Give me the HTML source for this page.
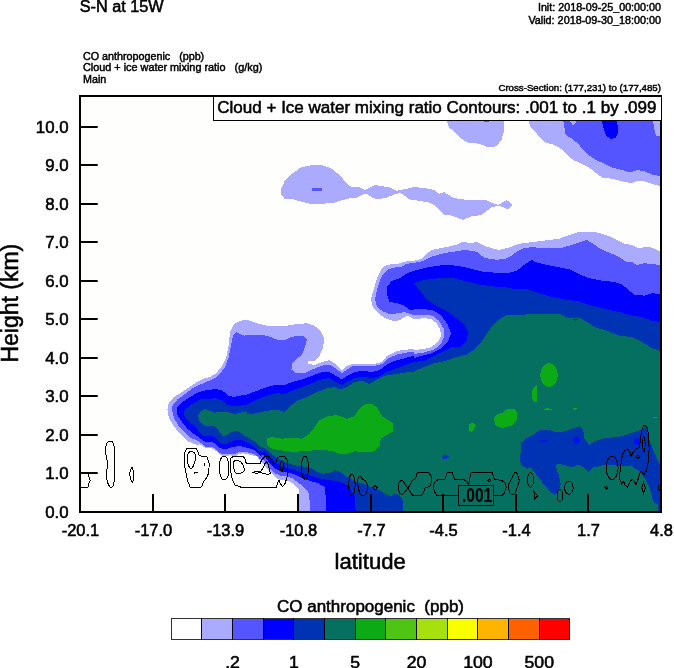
<!DOCTYPE html>
<html><head><meta charset="utf-8"><title>S-N at 15W</title>
<style>
html,body{margin:0;padding:0;background:#fff;}
body{width:674px;height:668px;overflow:hidden;position:relative;}
svg{position:absolute;left:0;top:0;display:block;}
text{font-family:"Liberation Sans",sans-serif;fill:#000;}
.tk{font-size:16px;stroke:#000;stroke-width:0.55px;}
.sm{font-size:10.4px;stroke:#000;stroke-width:0.45px;}
.bd{stroke:#000;stroke-width:0.55px;}
</style></head><body>
<svg width="674" height="668" viewBox="0 0 674 668">
<rect width="674" height="668" fill="#ffffff"/>
<clipPath id="pc"><rect x="80" y="96" width="581" height="416"/></clipPath>
<g clip-path="url(#pc)" shape-rendering="crispEdges">
<rect x="80" y="96" width="581" height="416" fill="#fefefc"/>
<path d="M167.5 409.5 L168.75 403.25 L173.75 397 L180 393.25 L187.5 388.25 L195 383.25 L202.5 379 L210 377 L216.25 373.25 L221.25 367 L226.25 357 L228.75 344.5 L230 332 L233.75 324.5 L240 320.75 L247 320 L257 323.25 L267 325.75 L277 326.5 L287 325.75 L297 324 L307 323.25 L314.5 325.75 L320.75 330.75 L324 338.25 L323.25 347 L319.5 355.75 L314.5 360.75 L308.25 361.5 L307 363.25 L314.5 365 L322 362 L329.5 360 L334.5 363.25 L342 370.75 L347 365.75 L352 364 L362 364 L372 364.5 L382 362 L387 355.75 L394.5 352 L402 350 L414 349 L414 350 L424 349 L431.5 347 L437.75 342 L441 335.75 L440.25 329.5 L436.5 323.25 L431.5 319 L424 318.25 L414 319 L407 315.75 L400.75 319.5 L394.5 321.5 L387 319 L379.5 314.5 L373.25 308.25 L370.75 299.5 L373.5 290 L377 278.25 L380.75 270.25 L385 265.75 L391.5 264 L398.5 263.5 L405.5 261.5 L414.5 260.5 L421.5 258.75 L427 253.5 L432.25 249.75 L441.25 248 L450 246.25 L457.25 244.5 L462.5 241.5 L469.75 243.25 L476.75 242 L484 245.75 L491.5 248 L499 250 L509 247.5 L519 243.75 L529 242.5 L539 241.25 L549 240 L559 238.75 L569 235 L576.5 232.5 L581 232 L589.5 231.5 L594.5 232 L602 233.75 L609.5 236.25 L617 240 L624.5 243.75 L632 245 L637 247.5 L643.25 247.5 L649.5 247 L654.5 248.75 L660 251.25 L661 512 L299.08 512.99 L298.54 488.96 L294.98 485.4 L290.53 481.84 L285.19 479.52 L278.96 479.52 L274.51 476.5 L270.06 472.05 L265.61 466.7 L261.16 461.36 L260 460.61 L258.76 458.83 L256.97 456.6 L253.41 455.71 L249.85 454.82 L246.29 453.93 L242.73 453.31 L239.17 453.93 L236.5 455.71 L233.83 456.16 L230.27 455.27 L226.71 455.98 L222.26 455.71 L219.59 454.2 L216.91 451.71 L214.24 449.48 L211.57 448.32 L206.23 448.32 L202.67 446.37 L200 444.14 L197.5 445 L187.5 441.25 L180 433.75 L173.75 426.25 L168.75 417.5 L167.5 410Z" fill="#aaaaff" />
<path d="M446.5 120 L449 127.5 L455.25 132.5 L461.5 138.75 L467.75 142.5 L479 143.75 L489 147.5 L496.5 146.25 L501.5 140 L503.5 132.5 L503.5 120Z" fill="#aaaaff" />
<path d="M528.25 120 L530.75 127.5 L535.75 132.5 L540.75 138.75 L545.75 142.5 L554.5 145 L560.75 148.75 L567 155 L573.25 160 L582 163.75 L590.75 168.75 L597 173.75 L602 177.5 L612 178.75 L622 181.25 L630.75 183 L637 181.25 L644.5 181.25 L652 183.75 L660 186.25 L660 120Z" fill="#aaaaff" />
<path d="M280.75 190 L284.5 181.25 L292 173.75 L300.75 167.5 L312 165 L322 165 L332 168.75 L340.75 176.25 L345.75 182.5 L349.5 186.25 L354.5 187.5 L359.5 187 L364.5 190 L368.25 188.5 L374.5 185 L382 186.25 L389.5 187.5 L397 190.75 L407 188.75 L414 187 L424 188 L434 190 L439 193.75 L444 192 L449 195 L454 198 L464 199.5 L476.5 200 L485.25 199.5 L491.5 202.5 L497.75 205 L501.5 203 L506.5 200 L510.25 202.5 L512.75 205 L507.75 209.5 L502.75 207 L497.75 205.75 L491.5 207.5 L486.5 211.25 L481.5 215 L471.5 216.25 L462.75 220 L456.5 217.5 L449 215 L444 214.5 L439 210 L434 205 L429 202.5 L421.5 201.25 L414 200 L409.5 199.5 L404.5 195.5 L400 193 L394.5 194.25 L387 197.5 L377 199.5 L372 197.5 L367.5 194 L363.25 194.5 L357 197.5 L347 198.75 L334.5 202.5 L322 203.75 L309.5 203.75 L299.5 201.25 L292 198.75 L284.5 198.75 L280.75 193.75Z" fill="#aaaaff" />
<rect x="484.3" y="121" width="4.5" height="1" fill="#5555ff"/>
<path d="M311.5 188.25 L321.5 188 L322 190.75 L311.5 191Z" fill="#5555ff" />
<path d="M171.25 412 L172.5 405.75 L177.5 399.5 L185 394 L192.5 388.25 L200 384.5 L207.5 381.5 L215 378.25 L220 374 L225 367 L228.75 357 L231.25 344.5 L233 335.75 L236.25 332 L241.25 334.5 L245 335.75 L247 334.5 L257 334.5 L267 335.75 L277 339.5 L284.5 340 L290.75 337 L298.25 335.75 L304.5 336.5 L307 339.5 L305 347 L302 354.5 L295.75 359.5 L292 363.25 L291.5 369.5 L295.75 373.25 L304.5 373.25 L312 369.5 L319.5 366.5 L327 364.5 L332 365.75 L337 369.5 L342 373.25 L347 369.5 L352 366.5 L362 365.75 L372 366.5 L382 364 L388.25 358.25 L397 354.5 L407 352.5 L414 351.5 L414 354 L424 352.5 L434 349.5 L441 344 L444.5 335.75 L443.5 328.25 L439 320.75 L432.75 315.75 L424 314.5 L414 315 L404.5 312 L397 313.25 L390.75 314.5 L383.25 311.5 L377 307 L375 299.5 L377 290 L379.75 281 L382.5 274.75 L387.75 269.5 L395 267.5 L402 266.75 L405.5 264 L414.5 262.75 L423.5 261 L430.5 257 L441.25 254 L450 252 L459 251 L464.5 249.75 L471.5 251 L477 251.75 L484.25 258 L496.75 259.75 L505.5 258.75 L511 256.25 L518 250.75 L523.5 248 L532.25 247.25 L544.75 248 L559 248.5 L569.75 245.5 L580.5 242 L587 240 L593.25 243.75 L598.25 247.5 L605.75 251.25 L612 253.75 L619.5 257.5 L627 262 L632 262 L637 265 L644.5 263.25 L652 264 L660 265 L661 512 L310.11 512.99 L309.22 493.41 L304.77 488.07 L298.54 482.73 L292.31 478.28 L286.97 476.5 L280.74 475.61 L275.4 473.47 L270.95 469.38 L266.5 464.03 L262.05 457.8 L260 459.27 L258.76 457.49 L256.08 455.27 L253.41 453.93 L249.85 453.04 L246.29 452.15 L241.84 451.71 L238.28 452.15 L235.61 453.93 L230.27 453.93 L226.71 454.38 L223.15 454.38 L219.59 453.04 L216.91 450.37 L214.24 447.97 L211.57 446.81 L206.23 447.08 L203.56 445.03 L200 442.36 L198.75 441.25 L190 437.5 L183.75 431.25 L178 425 L173.75 417.5 L172 410Z" fill="#5555ff" />
<path d="M563.25 120 L564.5 127.5 L565.75 135 L572 138.75 L578.25 143.75 L582 148.75 L588.25 155 L595.75 160 L604.5 163.75 L612 167.5 L622 170 L630.75 172.5 L637 170 L644.5 171.25 L652 174.5 L660 176.25 L660 136.25 L656.25 136.25 L654.5 130 L652.75 120 L577.5 120 L573.25 125.5 L569 120Z" fill="#5555ff" />
<path d="M601.5 120 L603.25 127.5 L605.75 135 L610.75 139.5 L615.75 137.5 L618.25 132.5 L617 120Z" fill="#0000ff" />
<path d="M176.25 412 L177.5 407 L182.5 402 L190 397 L198.75 392 L207.5 390 L216.25 389 L222.5 390.75 L228.75 395.75 L233.75 397 L240 395.75 L247 394.5 L257 390.75 L267 387 L277 384.5 L284.5 385 L292 382 L302 379.5 L312 375.75 L322 372 L329.5 372 L335.75 375.75 L342 379.5 L347 375.75 L354.5 372 L362 370.75 L372 372 L379.5 370 L387 364.5 L394.5 360.75 L404.5 358.25 L414 355.75 L414 358.25 L421.5 355.75 L431.5 353.25 L441.5 348.25 L447.75 342 L451 333.25 L447.75 324.5 L441.5 315.75 L434 310.75 L424 309 L414 309.5 L409.5 309.5 L404.5 305.75 L397 303.25 L389.5 302 L387 294.5 L387.5 285.75 L392 280.75 L399.5 278.25 L407 273.25 L414 270.75 L429 267 L446.5 264.5 L464 267 L484 272 L507 273.25 L517 270.75 L524.5 264.5 L528.25 262 L532 260 L534.5 262 L544.5 264.5 L557 267 L569.5 269.5 L579.5 274.5 L589.5 278.25 L602 280.75 L614.5 282 L622 284.5 L629.5 290.75 L634.5 294.5 L644.5 295.75 L652 293.25 L660 294 L661 512 L326.14 512.99 L325.25 487.18 L317.24 482.73 L310.11 480.95 L302.99 478.28 L295.87 474.72 L290.53 472.94 L283.41 472.05 L278.07 470.27 L272.73 466.7 L268.28 461.36 L263.83 455.13 L260 455.71 L257.87 453.49 L255.19 450.82 L252.52 449.48 L248.96 448.32 L245.4 447.26 L241.84 446.37 L238.28 445.92 L234.72 446.81 L230.27 447.7 L226.71 448.86 L223.15 449.04 L219.59 447.7 L216.91 445.03 L214.24 442.8 L211.57 441.91 L207.12 442.36 L203.56 441.02 L200 438.18 L193.75 433.75 L187.5 428.75 L182.5 422.5 L178 416.25 L176.25 410Z" fill="#0000ff" />
<path d="M183 414.5 L185 409.5 L191.25 404.5 L200 399.5 L207.5 399 L215 398.25 L222.5 400.75 L227.5 404.5 L232.5 406.5 L240 405.75 L247 404.5 L257 399.5 L267 395.75 L277 393.25 L284.5 394 L292 390.75 L302 387 L312 383.25 L322 379 L329.5 378.25 L335.75 382 L342 385 L347 382 L354.5 378.25 L362 376.5 L372 378.25 L379.5 376.5 L387 372 L397 368.25 L407 364.5 L414 362 L424 360.75 L434 355.75 L444 350.75 L451.5 347 L461.5 346.5 L466.5 340.75 L468.5 332 L464 324.5 L456.5 318.25 L446.5 310.75 L436.5 305.75 L426.5 299.5 L419 289.5 L414 283.25 L424 280 L439 278.25 L451.5 277.5 L464 280.75 L479 284.5 L494 286.5 L507 287.5 L517 289.5 L527 289 L539.5 293.25 L552 297 L564.5 299.5 L579.5 301.5 L592 305.75 L607 309.5 L619.5 312 L632 315.75 L642 317 L652 320.75 L660 322 L661 512 L355.75 512.5 L354.5 495 L350 489.5 L349.99 486.64 L343.94 483.62 L336.82 481.3 L329.7 480.06 L319.02 478.28 L310.11 475.61 L302.99 472.94 L295.87 470.27 L288.75 468.48 L281.63 466.7 L275.4 462.25 L270.06 456.91 L264.72 450.68 L260 452.6 L257.87 449.93 L255.19 447.26 L251.63 445.03 L248.07 443.25 L244.51 441.47 L241.84 440.13 L238.28 439.69 L233.83 440.58 L229.38 442.36 L225.82 443.87 L222.26 443.69 L219.59 441.91 L216.91 439.24 L214.24 437.02 L211.57 436.13 L207.12 436.39 L203.56 435.68 L200 432.57 L196.25 427.5 L190 422.5 L185 417.5 L183 411.25Z" fill="#0033b3" />
<path d="M197.5 417 L200 412 L205 409 L210 410.75 L215 412.75 L220 411.5 L227.5 412 L235 414 L242.5 412 L247 411.5 L247 414.5 L257 413.25 L267 410.75 L277 409.5 L284.5 412 L289.5 407 L297 400.75 L307 397 L317 392 L327 388.25 L334.5 387 L340.75 389.5 L347 387 L354.5 382 L362 380.75 L369.5 384 L377 379.5 L384.5 375.75 L397 374 L407 372 L414 371.5 L424 367 L434 363.25 L446.5 360.75 L456.5 357 L466.5 354.5 L474 349.5 L481.5 342 L486.5 334.5 L491.5 327 L499 319.5 L506.5 315 L519 315 L531.5 314 L544 314.5 L559 315.75 L574 319.5 L581 318.25 L522 315 L532 314 L544.5 314 L559.5 314 L569.5 318.25 L575.75 320.75 L580.75 318.25 L587 322 L594.5 327 L607 330.75 L619.5 335.75 L632 337 L642 342 L652 348.25 L660 350.75 L661 512 L403.25 512.5 L402.5 500 L399.5 495 L394.5 493.75 L390.75 496.25 L387 495 L379.5 490 L372 487.5 L364.5 483.75 L354.5 481.25 L349.99 478.28 L343.94 474.72 L338.6 471.16 L335.04 470.27 L329.7 472.94 L322.58 473.83 L317.24 472.05 L311.89 468.48 L304.77 466.7 L297.65 465.81 L290.53 464.03 L283.41 461.36 L276.29 457.8 L270.95 453.35 L265.61 448.9 L260 446.37 L257.87 444.14 L255.19 441.91 L251.63 439.69 L248.07 437.46 L244.51 435.5 L240.95 433.01 L238.28 431.05 L233.83 431.23 L229.38 433.46 L225.82 435.68 L222.26 435.5 L220.48 433.01 L217.8 429.45 L215.13 426.78 L211.57 425.89 L207.12 426.34 L203.56 425 L203.75 425 L199.5 421.25 L197.5 415Z" fill="#067060" />
<path d="M521.5 442.5 L525.75 438.75 L533.25 435 L539.5 430 L548.25 429.5 L557 432.5 L564.5 431.25 L572 428.75 L579.5 426.25 L583.25 430 L584.5 438.75 L589.5 445 L594.5 441.25 L602 438.75 L612 437.5 L622 436.25 L629.5 433.75 L637 431.25 L642 428.75 L645.75 426.25 L649.5 440 L653.25 450 L657 458.75 L660 465 L660 512 L658 512 L658 503 L656.5 504 L654.5 502.75 L652.5 498.5 L650 489.5 L647 482.5 L643.25 476.25 L639.5 471.25 L632 466.25 L622 466.25 L612 465 L602 465.5 L593.25 467.5 L588.25 472 L584.5 467.5 L578.25 464.5 L572 467.5 L564.5 465 L557 463.75 L555.75 467.5 L559 475 L560.75 483.75 L558.25 491.25 L554.5 495 L550.75 492 L543.25 483.75 L535.75 473.75 L530.75 467.5 L527 468.75 L522 466.25 L520 460Z" fill="#0033b3" />
<path d="M540 440 L547.5 439.5 L548 441.5 L540.5 442Z" fill="#0011ee" />
<ellipse cx="576.5" cy="440.5" rx="3.2" ry="3.2" fill="#0011ee"/>
<ellipse cx="637.0" cy="441.25" rx="3.5" ry="3.5" fill="#0011ee"/>
<ellipse cx="445.25" cy="457.0" rx="3.5" ry="1.8" fill="#0033cc"/>
<path d="M266.5 438.75 L272 437 L282 438.75 L292 437.5 L302 438.75 L309.5 433.75 L314.5 427.5 L319.5 420 L327 416.25 L337 415 L347 418.75 L354.5 416.25 L359.5 408.75 L364.5 404.5 L372 403.75 L377 407.5 L382 416.25 L388.25 420 L393.25 423.75 L393.25 431.25 L387 435 L380.75 438.75 L379.5 446.25 L374.5 451.25 L364.5 452.5 L354.5 451.25 L347 453.75 L339.5 453.75 L332 451.25 L322 449.5 L312 450.5 L302 451.25 L292 452 L282 450.5 L272 448.75 L267.5 445Z" fill="#0caa14" />
<ellipse cx="549" cy="375" rx="8.8" ry="11.8" fill="#0caa14"/>
<path d="M537.25 384 L534 387 L531.5 392 L531.5 397 L534 401.5 L537.25 402Z" fill="#0caa14" />
<path d="M542.75 409 L547.75 408.25 L552.75 409.25 L547.75 410.5Z" fill="#0caa14" />
<path d="M571.5 408.75 L575.25 408 L578.5 409 L575.25 409.75Z" fill="#0caa14" />
<path d="M494 417.5 L496.5 414.5 L502.75 412.5 L507.75 408.75 L514 408.75 L517.75 413 L516.5 420.5 L511.5 425.5 L501.5 428 L495.25 425Z" fill="#0caa14" />
<path d="M468.5 430 L469 424.5 L472.75 422.5 L475.75 425 L474 429.5 L471.5 432Z" fill="#0caa14" />
<path d="M651.5 417 L654.5 416.5 L656.5 417.5 L654 418.25Z" fill="#0caa14" />
</g>
<g id="contours" clip-path="url(#pc)" fill="none" stroke="#000" stroke-width="1" shape-rendering="crispEdges">
<path d="M80 473.26 L88.01 473.62 L88.9 476.64 L90.33 480.74 L88.55 483.41 L88.01 487.33 L80 487.33"/>
<path d="M106.7 443.35 C107.35 441.66 108.49 441.52 109.38 441.22 C110.27 440.92 111.31 440.92 112.05 441.57 C112.79 442.22 113.44 443.20 113.83 445.13 C114.22 447.06 114.27 448.24 114.36 453.14 C114.45 458.04 114.45 469.46 114.36 474.51 C114.27 479.56 114.28 481.27 113.83 483.41 C113.38 485.55 112.43 486.88 111.69 487.33 C110.95 487.77 110.15 487.18 109.38 486.08 C108.61 484.98 107.56 482.97 107.06 480.74 C106.56 478.51 106.26 475.25 106.35 472.73 C106.44 470.21 107.53 467.99 107.59 465.61 C107.65 463.24 107.06 460.86 106.7 458.48 C106.34 456.11 105.46 453.88 105.46 451.36 C105.46 448.84 106.05 445.04 106.7 443.35Z"/>
<path d="M131.99 467.39 C131.40 467.54 130.06 470.80 129.85 472.73 C129.64 474.66 130.30 477.39 130.74 478.96 C131.19 480.53 132.08 482.31 132.52 482.16 C132.97 482.01 133.26 479.79 133.41 478.07 C133.56 476.35 133.65 473.62 133.41 471.84 C133.17 470.06 132.58 467.24 131.99 467.39Z"/>
<path d="M184.79 452.8 L186.57 448.89 L196.36 448.35 L198.14 451.91 L199.03 455.47 L203.48 456.72 L207.05 456.72 L209.18 463.48 L208.83 472.39 L206.69 477.73 L203.48 481.64 L201.7 486.99 L190.13 487.16 L187.82 481.29 L186.04 473.28 L184.26 463.48Z"/>
<path d="M187.46 456.36 C187.70 454.97 188.15 453.28 188.89 452.45 C189.63 451.62 190.90 451.17 191.91 451.38 C192.92 451.59 194.35 452.42 194.94 453.69 C195.53 454.96 195.68 457.10 195.47 459.03 C195.26 460.96 194.43 463.64 193.69 465.27 C192.95 466.90 191.91 468.83 191.02 468.83 C190.13 468.83 188.94 466.61 188.35 465.27 C187.76 463.93 187.61 462.30 187.46 460.81 C187.31 459.32 187.22 457.75 187.46 456.36Z"/>
<path d="M204.38 463.48 L204.02 465.98" stroke-width="1"/>
<path d="M194.05 473.1 L197.61 472.39" stroke-width="1"/>
<path d="M221.64 457.25 C222.59 455.76 223.87 456.06 224.85 456.36 C225.83 456.66 226.84 457.40 227.52 459.03 C228.20 460.66 228.79 463.64 228.94 466.16 C229.09 468.68 228.79 472.09 228.41 474.17 C228.03 476.25 227.67 477.82 226.63 478.62 C225.59 479.42 223.31 479.86 222.18 478.97 C221.05 478.08 220.37 475.56 219.86 473.28 C219.36 471.00 218.85 467.94 219.15 465.27 C219.45 462.60 220.69 458.74 221.64 457.25Z"/>
<path d="M230.55 458.14 L232.86 456.72 L242.65 456.36 L244.79 458.14 L246.21 463.13 L253.33 463.84 L260.1 463.48 L262.24 459.03 L264.91 456.72 L268.47 456.36 L271.14 459.92 L273.27 463.48 L275.59 463.13 L277.37 458.14 L280.04 456.36 L284.49 456.36 L287.16 459.92 L288.05 467.05 L287.16 475.95 L285.38 483.07 L282.71 486.63 L280.04 483.07 L279.15 480.4 L277.37 483.07 L276.48 487.16 L240.87 487.16 L234.64 484.85 L232.33 479.51 L230.55 470.61 L230.19 463.48Z"/>
<path d="M233.75 461.7 C234.25 460.90 235.38 460.52 236.42 460.46 C237.46 460.40 238.94 460.70 239.98 461.35 C241.02 462.00 241.91 462.84 242.65 464.38 C243.39 465.92 244.58 469.22 244.43 470.61 C244.28 472.00 243.09 472.30 241.76 472.74 C240.42 473.19 237.69 473.78 236.42 473.28 C235.14 472.78 234.62 471.06 234.11 469.72 C233.61 468.39 233.45 466.61 233.39 465.27 C233.33 463.93 233.25 462.50 233.75 461.7Z"/>
<path d="M253.33 472.39 L256 471.5 L260.45 471.5 L263.13 467.94 L264.91 463.48 L266.69 461.7 L268.47 464.38 L269.36 469.72 L270.25 473.28 L267.58 474.52 L264.02 473.28 L260.45 472.74 L256 473.28Z"/>
<path d="M281.82 461.35 C282.41 461.35 283.42 463.13 283.6 464.38 C283.78 465.63 283.25 467.64 282.89 468.83 C282.53 470.02 281.88 471.56 281.46 471.5 C281.04 471.44 280.63 469.66 280.39 468.47 C280.15 467.28 279.80 465.57 280.04 464.38 C280.28 463.19 281.23 461.35 281.82 461.35Z"/>
<ellipse cx="304.95" cy="467.58" rx="3.56" ry="11.57"/>
<ellipse cx="351.95" cy="484.85" rx="3.20" ry="10.68"/>
<path d="M358.54 477.73 C358.99 476.75 359.73 476.15 360.32 476.3 C360.91 476.45 361.21 477.79 362.1 478.62 C362.99 479.45 364.71 479.96 365.66 481.29 C366.61 482.62 367.65 484.70 367.8 486.63 C367.95 488.56 367.20 491.38 366.55 492.86 C365.90 494.34 364.92 495.23 363.88 495.53 C362.84 495.83 361.21 495.83 360.32 494.64 C359.43 493.45 358.99 490.49 358.54 488.41 C358.10 486.33 357.65 483.96 357.65 482.18 C357.65 480.40 358.10 478.71 358.54 477.73Z"/>
<path d="M375.1 485.56 L377.24 487.7 L375.1 489.83 L372.96 487.7Z"/>
<path d="M398.56 483.96 L400.7 480.4 L403.01 480.93 L405.33 484.49 L407.82 488.05 L404.79 491.97 L402.12 495.17 L399.45 492.86 L398.2 488.41Z"/>
<path d="M407.82 488.05 L410.13 484.85 L411.91 480.93 L415.47 478.62 L417.25 472.74 L428.83 472.39 L431.5 476.84 L431.5 481.29 L429.72 486.63 L425.27 487.52 L423.48 491.97 L421.7 495.53 L412.8 495.53 L410.13 491.61Z"/>
<path d="M459.09 495.53 L436.84 495.53 L434.17 491.08 L433.28 485.74 L435.06 481.64 L437.73 479.86 L444.85 479.51 L446.99 472.74 L451.97 472.39 L454.64 479.15 L464.43 479.86 L467.1 481.64 L468.7 485.2"/>
<path d="M468.7 485.2 L470.66 473.28 L472.44 472.39 L492.03 472.39 L494.34 479.51 L501.82 480.4 L505.38 483.07 L506.27 487.52 L504.49 492.86 L501.82 495.53 L493.81 495.53"/>
<path d="M489.36 478.97 L490.78 480.4 L489.36 481.82 L487.93 480.4Z"/>
<path d="M514.92 472.39 L516.7 472.74 L518.48 476.84 L519.38 481.29 L517.59 486.63 L515.81 491.61 L513.14 495.17 L510.47 493.75 L508.69 489.3 L508.34 484.85 L510.47 480.93 L512.79 475.95Z"/>
<ellipse cx="530.59" cy="480.04" rx="3.03" ry="7.12"/>
<path d="M533.97 491.61 L537.71 495.89 L534.15 499.45Z"/>
<ellipse cx="559.97" cy="495.53" rx="2.67" ry="5.88"/>
<ellipse cx="568.87" cy="487.70" rx="4.27" ry="6.59"/>
<path d="M606.61 486.63 L607.86 487.88 L606.61 489.12 L605.36 487.88Z"/>
<ellipse cx="612.14" cy="467.87" rx="5.99" ry="11.68"/>
<path d="M641.65 431.47 L643.14 426.23 L645.39 425.18 L647.64 428.48 L648.69 437.47 L649.14 449.45 L648.39 461.43 L646.59 470.41 L644.19 474.91 L642.4 472.66 L640.9 471.16 L639.4 474.91 L637.6 480.9 L636.11 484.64 L634.16 480.9 L631.91 479.4 L629.67 482.4 L627.42 486.89 L625.17 485.39 L623.67 481.65 L621.73 483.89 L619.93 480.15 L619.63 474.91 L620.68 467.42 L621.43 459.93 L622.63 453.94 L625.17 450.2 L628.17 449.75 L630.41 453.19 L631.16 456.19 L633.41 451.69 L636.4 448.7 L639.1 447.2 L640.15 441.96 L640.9 435.97Z"/>
<ellipse cx="643.89" cy="444.20" rx="1.20" ry="7.49"/>
<path d="M637.9 454.84 L639.7 456.64 L637.9 458.43 L636.11 456.64Z"/>
<path d="M643.59 482.7 L645.39 487.94 L643.59 493.18 L641.8 487.94Z"/>
<path d="M606.15 486.44 L607.65 487.94 L606.15 489.43 L604.65 487.94Z"/>
<path d="M660.67 483.89 L658.87 486.14 L658.57 489.14 L660.67 491.68"/>
<rect x="458.5" y="485.5" width="35" height="19.8" fill="#067060" stroke="#000" stroke-width="0.9"/>
</g>
<text x="462" y="501.8" font-size="20px" font-weight="bold" textLength="30.2" lengthAdjust="spacingAndGlyphs">.001</text>
<!-- frame -->
<rect x="80" y="96" width="581" height="416" fill="none" stroke="#000" stroke-width="2"/>
<!-- info label -->
<rect x="213.5" y="96" width="447.5" height="24.5" fill="#fff" stroke="#000" stroke-width="1" shape-rendering="crispEdges"/>
<text x="217.3" y="112.6" font-size="17px" class="bd" textLength="439.2" lengthAdjust="spacingAndGlyphs">Cloud + Ice water mixing ratio Contours: .001 to .1 by .099</text>
<!-- y ticks -->
<g stroke="#000" stroke-width="2">
<line x1="80" x2="97.7" y1="473" y2="473"/><line x1="80" x2="97.7" y1="435" y2="435"/><line x1="80" x2="97.7" y1="396" y2="396"/><line x1="80" x2="97.7" y1="358" y2="358"/><line x1="80" x2="97.7" y1="319" y2="319"/><line x1="80" x2="97.7" y1="281" y2="281"/><line x1="80" x2="97.7" y1="242" y2="242"/><line x1="80" x2="97.7" y1="204" y2="204"/><line x1="80" x2="97.7" y1="165" y2="165"/><line x1="80" x2="97.7" y1="127" y2="127"/>
<line y1="494" y2="512" x1="153" x2="153"/><line y1="494" y2="512" x1="225" x2="225"/><line y1="494" y2="512" x1="298" x2="298"/><line y1="494" y2="512" x1="371" x2="371"/><line y1="494" y2="512" x1="443" x2="443"/><line y1="494" y2="512" x1="516" x2="516"/><line y1="494" y2="512" x1="588" x2="588"/>
</g>
<text class="tk" x="45.15" y="517.60" style="font-size:16px" textLength="23.35" lengthAdjust="spacingAndGlyphs">0.0</text>
<text class="tk" x="45.15" y="478.60" style="font-size:16px" textLength="23.35" lengthAdjust="spacingAndGlyphs">1.0</text>
<text class="tk" x="45.15" y="440.60" style="font-size:16px" textLength="23.35" lengthAdjust="spacingAndGlyphs">2.0</text>
<text class="tk" x="45.15" y="401.60" style="font-size:16px" textLength="23.35" lengthAdjust="spacingAndGlyphs">3.0</text>
<text class="tk" x="45.15" y="363.60" style="font-size:16px" textLength="23.35" lengthAdjust="spacingAndGlyphs">4.0</text>
<text class="tk" x="45.15" y="324.60" style="font-size:16px" textLength="23.35" lengthAdjust="spacingAndGlyphs">5.0</text>
<text class="tk" x="45.15" y="286.60" style="font-size:16px" textLength="23.35" lengthAdjust="spacingAndGlyphs">6.0</text>
<text class="tk" x="45.15" y="247.60" style="font-size:16px" textLength="23.35" lengthAdjust="spacingAndGlyphs">7.0</text>
<text class="tk" x="45.15" y="209.60" style="font-size:16px" textLength="23.35" lengthAdjust="spacingAndGlyphs">8.0</text>
<text class="tk" x="45.15" y="170.60" style="font-size:16px" textLength="23.35" lengthAdjust="spacingAndGlyphs">9.0</text>
<text class="tk" x="35.80" y="132.60" style="font-size:16px" textLength="32.70" lengthAdjust="spacingAndGlyphs">10.0</text>
<text class="tk" x="61.72" y="535.80" style="font-size:16px" textLength="37.56" lengthAdjust="spacingAndGlyphs">-20.1</text>
<text class="tk" x="134.72" y="535.80" style="font-size:16px" textLength="37.56" lengthAdjust="spacingAndGlyphs">-17.0</text>
<text class="tk" x="206.72" y="535.80" style="font-size:16px" textLength="37.56" lengthAdjust="spacingAndGlyphs">-13.9</text>
<text class="tk" x="279.72" y="535.80" style="font-size:16px" textLength="37.56" lengthAdjust="spacingAndGlyphs">-10.8</text>
<text class="tk" x="357.30" y="535.80" style="font-size:16px" textLength="28.40" lengthAdjust="spacingAndGlyphs">-7.7</text>
<text class="tk" x="429.30" y="535.80" style="font-size:16px" textLength="28.40" lengthAdjust="spacingAndGlyphs">-4.5</text>
<text class="tk" x="502.30" y="535.80" style="font-size:16px" textLength="28.40" lengthAdjust="spacingAndGlyphs">-1.4</text>
<text class="tk" x="577.05" y="535.80" style="font-size:16px" textLength="22.91" lengthAdjust="spacingAndGlyphs">1.7</text>
<text class="tk" x="650.05" y="535.80" style="font-size:16px" textLength="22.91" lengthAdjust="spacingAndGlyphs">4.8</text>
<text class="bd" x="334.5" y="569.3" font-size="22.4px" textLength="71.3" lengthAdjust="spacingAndGlyphs">latitude</text>
<text class="bd" transform="translate(18,303.2) rotate(-90)" font-size="23px" text-anchor="middle">Height (km)</text>
<!-- header text -->
<text class="bd" x="79.8" y="12" font-size="16px" textLength="83.8" lengthAdjust="spacingAndGlyphs">S-N at 15W</text>
<text class="sm" x="83" y="59.8" xml:space="preserve" textLength="121.2" lengthAdjust="spacingAndGlyphs">CO anthropogenic   (ppb)</text>
<text class="sm" x="83" y="71.2" xml:space="preserve" textLength="179.3" lengthAdjust="spacingAndGlyphs">Cloud + ice water mixing ratio   (g/kg)</text>
<text class="sm" x="83" y="82.8" textLength="23.3" lengthAdjust="spacingAndGlyphs">Main</text>
<text class="sm" x="537.9" y="10.9" textLength="123.1" lengthAdjust="spacingAndGlyphs">Init: 2018-09-25_00:00:00</text>
<text class="sm" x="528.4" y="23.6" textLength="132.6" lengthAdjust="spacingAndGlyphs">Valid: 2018-09-30_18:00:00</text>
<text class="sm" x="498.4" y="90.6" style="font-size:9px" textLength="162.6" lengthAdjust="spacingAndGlyphs">Cross-Section: (177,231) to (177,485)</text>
<!-- colorbar -->
<text class="bd" x="277" y="612" font-size="16.5px" textLength="187" lengthAdjust="spacingAndGlyphs" xml:space="preserve">CO anthropogenic  (ppb)</text>
<g stroke="#000" stroke-width="0.8" shape-rendering="crispEdges">
<rect x="171.2" y="618.6" width="30.67" height="20.8" fill="#ffffff"/>
<rect x="201.87" y="618.6" width="30.67" height="20.8" fill="#aaaaff"/>
<rect x="232.54" y="618.6" width="30.67" height="20.8" fill="#5555ff"/>
<rect x="263.21" y="618.6" width="30.67" height="20.8" fill="#0000ff"/>
<rect x="293.88" y="618.6" width="30.67" height="20.8" fill="#0033b3"/>
<rect x="324.55" y="618.6" width="30.67" height="20.8" fill="#067060"/>
<rect x="355.22" y="618.6" width="30.67" height="20.8" fill="#0caa14"/>
<rect x="385.89" y="618.6" width="30.67" height="20.8" fill="#4fc414"/>
<rect x="416.56" y="618.6" width="30.67" height="20.8" fill="#a6e00e"/>
<rect x="447.23" y="618.6" width="30.67" height="20.8" fill="#faff00"/>
<rect x="477.9" y="618.6" width="30.67" height="20.8" fill="#ffb400"/>
<rect x="508.57" y="618.6" width="30.67" height="20.8" fill="#ff6000"/>
<rect x="539.24" y="618.6" width="30.67" height="20.8" fill="#ff0000"/>
</g>
<text class="tk" x="225.17" y="667.60" style="font-size:17px" textLength="14.74" lengthAdjust="spacingAndGlyphs">.2</text>
<text class="tk" x="288.96" y="667.60" style="font-size:17px" textLength="9.83" lengthAdjust="spacingAndGlyphs">1</text>
<text class="tk" x="350.30" y="667.60" style="font-size:17px" textLength="9.83" lengthAdjust="spacingAndGlyphs">5</text>
<text class="tk" x="406.73" y="667.60" style="font-size:17px" textLength="19.67" lengthAdjust="spacingAndGlyphs">20</text>
<text class="tk" x="463.15" y="667.60" style="font-size:17px" textLength="29.50" lengthAdjust="spacingAndGlyphs">100</text>
<text class="tk" x="524.49" y="667.60" style="font-size:17px" textLength="29.50" lengthAdjust="spacingAndGlyphs">500</text>
</svg>
</body></html>
